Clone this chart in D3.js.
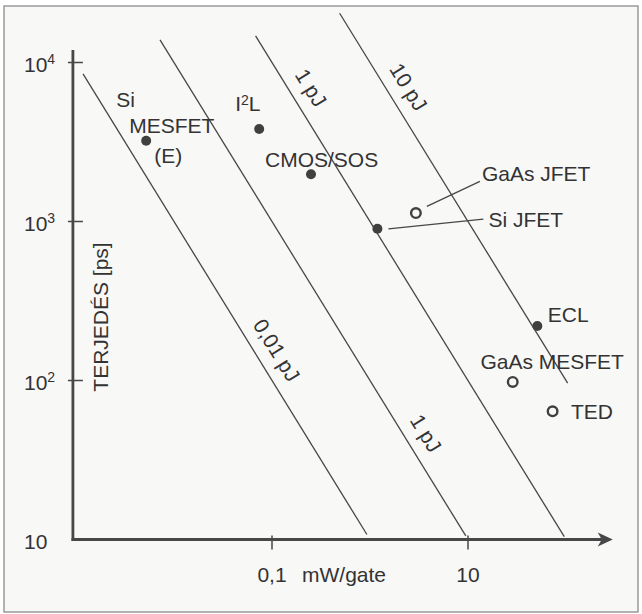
<!DOCTYPE html>
<html>
<head>
<meta charset="utf-8">
<script src="https://cdn.jsdelivr.net/npm/d3@7"></script>
<style>
  html, body { margin: 0; padding: 0; background: #ffffff; }
  svg { display: block; font-family: "Liberation Sans", Arial, Helvetica, sans-serif; }
</style>
</head>
<body>
<svg id="chart" width="642" height="614"></svg>
<script>
// Switching delay versus power dissipation of logic gate technologies (log–log).

// Devices: power per gate (mW) and propagation delay (ps)
const devices   = ["Si MESFET (E)", "I2L", "CMOS/SOS", "Si JFET", "GaAs JFET", "ECL", "GaAs MESFET", "TED"];
const powerMW   = [0.0052, 0.074, 0.25, 1.19, 2.94, 51, 28.6, 73];
const delayPs   = [3220, 3820, 1980, 900, 1130, 220, 98, 64];
const filledDot = [true, true, true, true, false, true, false, false];

// Constant power–delay product lines (energy in pJ) and their printed labels
const energyPj     = [0.01, 0.1, 1, 10];
const energyLabels = ["0,01 pJ", "1 pJ", "1 pJ", "10 pJ"];
const lineFromMW   = [0.00118, 0.0072, 0.068, 0.49];
const lineToMW     = [0.93, 9.5, 96, 104];
const labelAtMW    = [0.075, 2.5, 0.168, 1.66];

// Axes
const xTicks      = [0.1, 10];
const xTickLabels = ["0,1", "10"];
const xTitle      = "mW/gate";
const yTicks      = [10, 100, 1000, 10000];
const yTickExp    = ["", "2", "3", "4"];
const yTitle      = "TERJEDÉS [ps]";
const powerExtent = [0.00093, 300];
const delayExtent = [10, 12000];

const svg = d3.select("#chart");
const INK = "#333333";
const LINE = "#474747";
const FONT = 21;

const x = d3.scaleLog().domain([0.1, 10]).range([272, 468]);
const y = d3.scaleLog().domain([10, 10000]).range([539.5, 62.5]);

// Frame
svg.append("rect")
  .attr("x", 4).attr("y", 6).attr("width", 634).attr("height", 606)
  .attr("fill", "#f8f8f7").attr("stroke", "#9a9a9a").attr("stroke-width", 1.5);

// Energy lines
const eg = svg.append("g");
energyPj.forEach((E, i) => {
  const fJ = E * 1000;
  const pts = [lineFromMW[i], lineToMW[i]].map(p => [x(p), y(fJ / p)]);
  eg.append("path")
    .attr("d", d3.line()(pts))
    .attr("fill", "none").attr("stroke", LINE).attr("stroke-width", 1.3);

  const a = Math.atan2(pts[1][1] - pts[0][1], pts[1][0] - pts[0][0]);
  const fx = x(labelAtMW[i]), fy = y(fJ / labelAtMW[i]);
  const off = 20;
  const cx = fx + off * Math.sin(a), cy = fy - off * Math.cos(a);
  eg.append("text")
    .attr("transform", `translate(${cx},${cy}) rotate(${a * 180 / Math.PI})`)
    .attr("text-anchor", "middle").attr("dominant-baseline", "central")
    .attr("font-size", FONT).attr("fill", INK)
    .text(energyLabels[i]);
});

// Axes lines
const x0 = x(powerExtent[0]);
const yBase = y(delayExtent[0]);
const tip = x(powerExtent[1]);
const ag = svg.append("g").attr("stroke", "#474747").attr("fill", "none");
ag.append("line").attr("x1", x0).attr("x2", x0).attr("y1", yBase + 1.4).attr("y2", y(delayExtent[1]))
  .attr("stroke-width", 2.8);
ag.append("line").attr("x1", x0 - 1.4).attr("x2", tip - 6).attr("y1", yBase).attr("y2", yBase)
  .attr("stroke-width", 2.8);
svg.append("path")
  .attr("d", `M${tip},${yBase} L${tip - 15},${yBase - 7} L${tip - 11},${yBase} L${tip - 15},${yBase + 7} Z`)
  .attr("fill", "#474747");

// Y ticks and labels
yTicks.forEach((v, i) => {
  const yy = y(v);
  if (i > 0) {
    svg.append("line").attr("x1", x0 - 5).attr("x2", x0 + 10).attr("y1", yy).attr("y2", yy)
      .attr("stroke", "#474747").attr("stroke-width", 1.5);
  }
  const t = svg.append("text").attr("x", 24).attr("y", yy + 9)
    .attr("font-size", FONT).attr("fill", INK);
  t.append("tspan").text("10");
  if (yTickExp[i]) {
    t.append("tspan").attr("font-size", 14).attr("dy", -8).text(yTickExp[i]);
  }
});

// X ticks and labels
xTicks.forEach((v, i) => {
  const xx = x(v);
  svg.append("line").attr("x1", xx).attr("x2", xx).attr("y1", yBase - 4).attr("y2", yBase + 10)
    .attr("stroke", "#474747").attr("stroke-width", 1.5);
  svg.append("text").attr("x", xx).attr("y", 582)
    .attr("text-anchor", "middle").attr("font-size", FONT).attr("fill", INK)
    .text(xTickLabels[i]);
});
svg.append("text").attr("x", x(0.1) + 30).attr("y", 582)
  .attr("font-size", FONT).attr("fill", INK).text(xTitle);

// Y title
svg.append("text")
  .attr("transform", `translate(108,317) rotate(-90)`)
  .attr("text-anchor", "middle").attr("font-size", FONT).attr("fill", INK)
  .text(yTitle);

// Device markers
const pg = svg.append("g");
devices.forEach((d, i) => {
  const c = pg.append("circle").attr("cx", x(powerMW[i])).attr("cy", y(delayPs[i]));
  if (filledDot[i]) {
    c.attr("r", 5).attr("fill", "#404040");
  } else {
    c.attr("r", 4.8).attr("fill", "none").attr("stroke", "#404040").attr("stroke-width", 2.4);
  }
});

// Device label placement (offsets from the marker, px); "^{..}" marks a superscript
const labelLayout = {
  "Si MESFET (E)": { lines: [["Si", -30, -34], ["MESFET", -17, -8], ["(E)", 8, 22]] },
  "I2L":           { lines: [["I^{2}L", -24, -18]] },
  "CMOS/SOS":      { lines: [["CMOS/SOS", -46, -7]] },
  "Si JFET":       { lines: [["Si JFET", 111, -2]], leader: [[11, 0], [106, -9.7]] },
  "GaAs JFET":     { lines: [["GaAs JFET", 66, -31.6]], leader: [[11, -6.6], [64, -31.6]] },
  "ECL":           { lines: [["ECL", 10.5, -4.3]] },
  "GaAs MESFET":   { lines: [["GaAs MESFET", -32.3, -12.7]] },
  "TED":           { lines: [["TED", 18.4, 7.3]] }
};

const lg = svg.append("g").attr("font-size", FONT).attr("fill", INK);
devices.forEach((d, i) => {
  const px = x(powerMW[i]), py = y(delayPs[i]);
  const lay = labelLayout[d];
  if (lay.leader) {
    svg.append("line")
      .attr("x1", px + lay.leader[0][0]).attr("y1", py + lay.leader[0][1])
      .attr("x2", px + lay.leader[1][0]).attr("y2", py + lay.leader[1][1])
      .attr("stroke", LINE).attr("stroke-width", 1.3);
  }
  lay.lines.forEach(([str, dx, dy]) => {
    const t = lg.append("text").attr("x", px + dx).attr("y", py + dy);
    const parts = str.split(/(\^\{[^}]*\})/).filter(s => s.length);
    let raised = false;
    parts.forEach(s => {
      if (s.startsWith("^{")) {
        t.append("tspan").attr("font-size", 14).attr("dy", -6).text(s.slice(2, -1));
        raised = true;
      } else {
        const ts = t.append("tspan").text(s);
        if (raised) { ts.attr("dy", 6); raised = false; }
      }
    });
  });
});
</script>
</body>
</html>
